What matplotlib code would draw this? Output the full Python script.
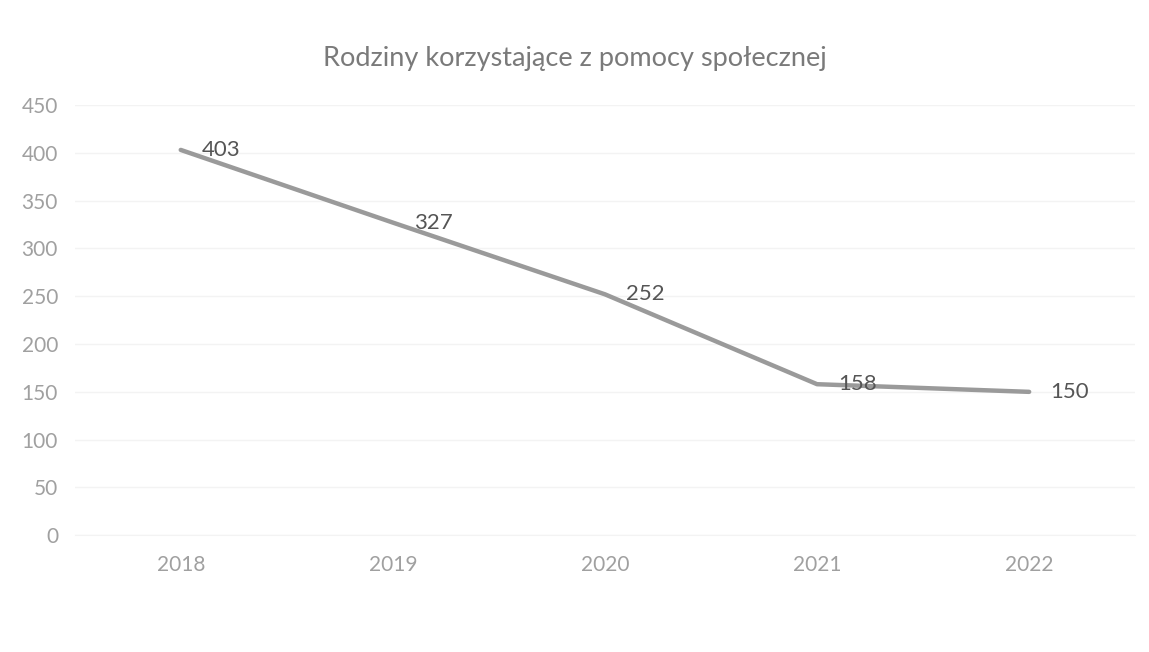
import matplotlib.pyplot as plt

years = ['2018', '2019', '2020', '2021', '2022']
families = [403, 327, 252, 158, 150]
y_ticks = [0, 50, 100, 150, 200, 250, 300, 350, 400, 450]

plt.rcParams['font.family'] = ['Lato', 'DejaVu Sans']

fig = plt.figure(figsize=(11.49, 6.52), dpi=100)
ax = fig.add_axes([0.065, 0.179, 0.923, 0.66])

x = range(len(years))
ax.plot(x, families, color='#9a9a9a', linewidth=3.2, solid_capstyle='round', zorder=3)
for i, v in zip(x, families):
    ax.annotate(str(v), (i, v), xytext=(15, 0), textcoords='offset points',
                ha='left', va='center', fontsize=16, color='#555555', zorder=4)

ax.set_xlim(-0.5, len(years) - 0.5)
ax.set_ylim(0, 450)
ax.set_yticks(y_ticks)
ax.set_xticks(list(x))
ax.set_xticklabels(years)
ax.grid(axis='y', color='#f3f3f3', linewidth=1, zorder=0)
ax.tick_params(length=0, labelsize=15, labelcolor='#a0a0a0')
ax.tick_params(axis='x', pad=14)
ax.tick_params(axis='y', pad=12)
for s in ax.spines.values():
    s.set_visible(False)
ax.spines['bottom'].set_visible(True)
ax.spines['bottom'].set_color('#f3f3f3')

fig.text(0.5, 0.91, 'Rodziny korzystające z pomocy społecznej', ha='center', va='center',
         fontsize=19.5, color='#7a7a7a')

fig.savefig('out.png', dpi=100)
